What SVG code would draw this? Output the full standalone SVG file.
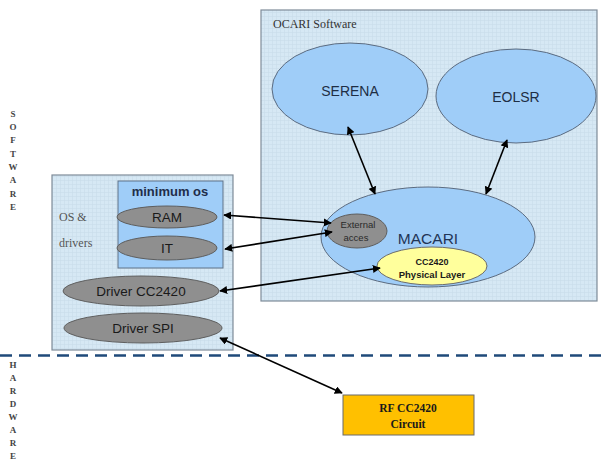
<svg xmlns="http://www.w3.org/2000/svg" width="603" height="461" viewBox="0 0 603 461">
<defs>
<pattern id="grid" width="4" height="4" patternUnits="userSpaceOnUse">
<rect width="4" height="4" fill="#d6e8f4"/>
<path d="M0 0.5H4M0.5 0V4" stroke="#c9dcea" stroke-width="0.6"/>
</pattern>
<marker id="ah" viewBox="0 0 10 10" refX="9" refY="5" markerWidth="8" markerHeight="8" markerUnits="userSpaceOnUse" orient="auto-start-reverse">
<path d="M0 0L10 5L0 10Z" fill="#000"/>
</marker>
<style>
.box{fill:url(#grid);stroke:#7f8c99;stroke-width:1.2}
.blue{fill:#9fcdf8;stroke:#5b6b80;stroke-width:1}
.gray{fill:#8f8f8f;stroke:#5e5e5e;stroke-width:1}
.sans{font-family:"Liberation Sans",Arial,sans-serif}
.serif{font-family:"Liberation Serif","Times New Roman",serif}
.lbl{font-size:14px;fill:#1e2e44;text-anchor:middle}
.glbl{font-size:13.5px;fill:#1a1a1a;text-anchor:middle}
.vert{font-size:9px;font-weight:bold;fill:#444;text-anchor:middle}
.conn line{stroke:#000;stroke-width:1.6;marker-start:url(#ah);marker-end:url(#ah)}
</style>
</defs>
<rect width="603" height="461" fill="#fff"/>

<g id="side-software" class="serif vert">
<text x="13" y="117">S</text><text x="13" y="130">O</text><text x="13" y="143">F</text><text x="13" y="157">T</text>
<text x="13" y="170">W</text><text x="13" y="183">A</text><text x="13" y="197">R</text><text x="13" y="210">E</text>
</g>
<g id="side-hardware" class="serif vert">
<text x="13" y="368">H</text><text x="13" y="381">A</text><text x="13" y="394">R</text><text x="13" y="407">D</text>
<text x="13" y="420">W</text><text x="13" y="433">A</text><text x="13" y="446">R</text><text x="13" y="459">E</text>
</g>

<g id="ocari-software">
<rect class="box" x="261" y="10" width="336" height="291"/>
<text class="serif" x="273" y="28" font-size="12" fill="#333">OCARI Software</text>
</g>

<g id="serena">
<ellipse class="blue" cx="350" cy="89" rx="78" ry="46"/>
<text class="sans lbl" x="350" y="96">SERENA</text>
</g>
<g id="eolsr">
<ellipse class="blue" cx="516" cy="96" rx="80" ry="47"/>
<text class="sans lbl" x="516" y="102">EOLSR</text>
</g>
<g id="macari">
<ellipse class="blue" cx="428" cy="237" rx="107" ry="50"/>
<text class="sans" x="428" y="244" font-size="15.5" fill="#1f3556" text-anchor="middle">MACARI</text>
</g>
<g id="external-acces">
<ellipse class="gray" cx="357" cy="231" rx="30" ry="17"/>
<text class="sans" x="358" y="228" font-size="9.5" fill="#2a2a2a" text-anchor="middle">External</text>
<text class="sans" x="356" y="241" font-size="9.5" fill="#2a2a2a" text-anchor="middle">acces</text>
</g>
<g id="phy">
<ellipse cx="432" cy="266" rx="55" ry="19" fill="#ffff9c" stroke="#6b6b6b" stroke-width="1"/>
<text class="sans" x="432" y="265" font-size="9" font-weight="bold" fill="#1a1a1a" text-anchor="middle">CC2420</text>
<text class="sans" x="432" y="278" font-size="9.5" font-weight="bold" fill="#1a1a1a" text-anchor="middle">Physical Layer</text>
</g>

<g id="os-drivers">
<rect class="box" x="52" y="175" width="181" height="175"/>
<text class="serif" x="59" y="221" font-size="12" fill="#555">OS &amp;</text>
<text class="serif" x="59" y="247" font-size="12" fill="#555">drivers</text>
</g>
<g id="minimum-os">
<rect x="118" y="181" width="105" height="87" fill="#9fcdf8" stroke="#5f7288" stroke-width="1"/>
<text class="sans" x="170" y="196" font-size="13" font-weight="bold" fill="#1f2d4a" text-anchor="middle">minimum os</text>
</g>
<g id="ram">
<ellipse class="gray" cx="167" cy="217" rx="50" ry="11"/>
<text class="sans glbl" x="167" y="222">RAM</text>
</g>
<g id="it">
<ellipse class="gray" cx="167" cy="248" rx="50" ry="12"/>
<text class="sans glbl" x="167" y="253">IT</text>
</g>
<g id="driver-cc2420">
<ellipse class="gray" cx="141" cy="291" rx="78" ry="15"/>
<text class="sans glbl" x="141" y="296">Driver CC2420</text>
</g>
<g id="driver-spi">
<ellipse class="gray" cx="143" cy="328" rx="79" ry="15"/>
<text class="sans glbl" x="143" y="333">Driver SPI</text>
</g>

<line id="divider" x1="0" y1="355.5" x2="603" y2="355.5" stroke="#1f4a7a" stroke-width="2.5" stroke-dasharray="12 7"/>

<g id="rf-circuit">
<rect x="343" y="395" width="131" height="40" fill="#ffc000" stroke="#6b6b6b" stroke-width="1"/>
<text class="serif" x="408" y="412" font-size="11.5" font-weight="bold" fill="#1a1a1a" text-anchor="middle">RF CC2420</text>
<text class="serif" x="408" y="428" font-size="11.5" font-weight="bold" fill="#1a1a1a" text-anchor="middle">Circuit</text>
</g>

<g id="connectors" class="conn">
<line x1="348" y1="127" x2="375" y2="194"/>
<line x1="507" y1="140" x2="486" y2="194"/>
<line x1="224" y1="215" x2="331" y2="223"/>
<line x1="225" y1="249" x2="332" y2="232"/>
<line x1="220" y1="291" x2="380" y2="268"/>
<line x1="220" y1="338" x2="342" y2="393"/>
</g>
</svg>
